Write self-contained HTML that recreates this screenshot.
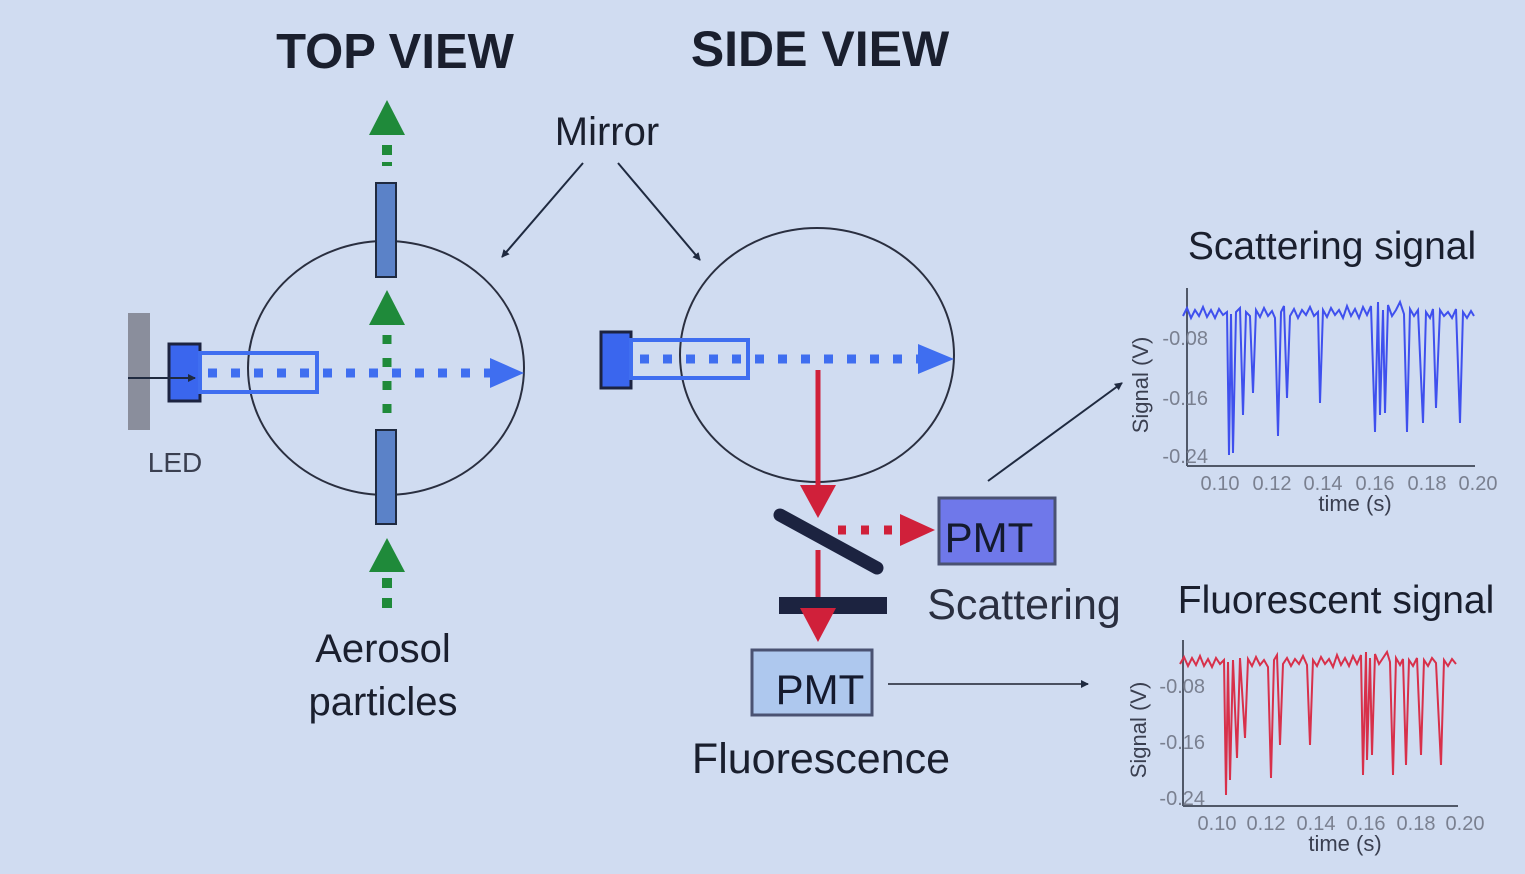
<!DOCTYPE html>
<html><head><meta charset="utf-8"><style>
html,body{margin:0;padding:0;background:#d0dcf1;}
svg{display:block;font-family:"Liberation Sans",sans-serif;}
</style></head><body>
<svg width="1525" height="874" viewBox="0 0 1525 874" xmlns="http://www.w3.org/2000/svg">
<defs>
<marker id="ab" markerWidth="8" markerHeight="8" refX="7" refY="4" orient="auto" markerUnits="userSpaceOnUse"><path d="M0,0 L8,4 L0,8 Z" fill="#1f2a40"/></marker>
</defs>
<rect width="1525" height="874" fill="#d0dcf1"/>
<text x="395" y="68" font-size="49" font-weight="bold" fill="#1a1f2e" text-anchor="middle">TOP VIEW</text>
<text x="820" y="66" font-size="50" font-weight="bold" fill="#1a1f2e" text-anchor="middle">SIDE VIEW</text>
<text x="607" y="145" font-size="40" fill="#1a1f2e" text-anchor="middle">Mirror</text>
<line x1="583" y1="163" x2="502" y2="257" stroke="#1f2a40" stroke-width="2" marker-end="url(#ab)"/>
<line x1="618" y1="163" x2="700" y2="260" stroke="#1f2a40" stroke-width="2" marker-end="url(#ab)"/>

<!-- top view -->
<ellipse cx="386" cy="368" rx="138" ry="127" fill="none" stroke="#2a2f40" stroke-width="2"/>
<rect x="128" y="313" width="22" height="117" fill="#8a8e9c"/>
<rect x="169" y="344" width="31" height="57" fill="#3a66ee" stroke="#1c2340" stroke-width="3"/>
<line x1="128" y1="378" x2="195" y2="378" stroke="#1f2a40" stroke-width="2" marker-end="url(#ab)"/>
<rect x="200" y="353" width="117" height="39" fill="none" stroke="#3f6ef0" stroke-width="4"/>
<line x1="208" y1="373" x2="495" y2="373" stroke="#3f6ef0" stroke-width="9" stroke-dasharray="9,14"/>
<path d="M490,358 L524,373 L490,388 Z" fill="#3f6ef0"/>
<text x="175" y="472" font-size="28" fill="#3a3f50" text-anchor="middle">LED</text>
<rect x="376" y="183" width="20" height="94" fill="#5b82c8" stroke="#1f2a40" stroke-width="2"/>
<rect x="376" y="430" width="20" height="94" fill="#5b82c8" stroke="#1f2a40" stroke-width="2"/>
<g fill="#1f8a3a">
<path d="M369,135 L387,100 L405,135 Z"/><rect x="382" y="145" width="10" height="10"/><rect x="382" y="162" width="10" height="4"/>
<path d="M369,325 L387,290 L405,325 Z"/>
<path d="M369,572 L387,538 L405,572 Z"/><rect x="382" y="578" width="10" height="10"/><rect x="382" y="598" width="10" height="10"/>
</g>
<line x1="387" y1="335" x2="387" y2="425" stroke="#1f8a3a" stroke-width="9" stroke-dasharray="9,14"/>
<text x="383" y="662" font-size="40" fill="#1a1f2e" text-anchor="middle">Aerosol</text>
<text x="383" y="715" font-size="40" fill="#1a1f2e" text-anchor="middle">particles</text>

<!-- side view -->
<ellipse cx="817" cy="355" rx="137" ry="127" fill="none" stroke="#2a2f40" stroke-width="2"/>
<rect x="601" y="332" width="30" height="56" fill="#3a66ee" stroke="#1c2340" stroke-width="3"/>
<rect x="631" y="340" width="117" height="38" fill="none" stroke="#3f6ef0" stroke-width="4"/>
<line x1="640" y1="359" x2="925" y2="359" stroke="#3f6ef0" stroke-width="9" stroke-dasharray="9,14"/>
<path d="M918,344 L954,359 L918,374 Z" fill="#3f6ef0"/>
<line x1="818" y1="370" x2="818" y2="490" stroke="#d0203a" stroke-width="5"/>
<path d="M800,485 L818,518 L836,485 Z" fill="#d0203a"/>
<line x1="780" y1="515" x2="877" y2="568" stroke="#1c2340" stroke-width="13" stroke-linecap="round"/>
<line x1="838" y1="530" x2="900" y2="530" stroke="#d0203a" stroke-width="9" stroke-dasharray="8,15"/>
<path d="M900,514 L935,530 L900,546 Z" fill="#d0203a"/>
<line x1="818" y1="550" x2="818" y2="615" stroke="#d0203a" stroke-width="5"/>
<rect x="779" y="597" width="108" height="17" fill="#1c2340"/>
<path d="M800,608 L818,642 L836,608 Z" fill="#d0203a"/>
<rect x="939" y="498" width="116" height="66" fill="#6f78ea" stroke="#4a5272" stroke-width="3"/>
<text x="989" y="552" font-size="42" fill="#141a2e" text-anchor="middle">PMT</text>
<text x="1024" y="619" font-size="43" fill="#2a2f40" text-anchor="middle">Scattering</text>
<rect x="752" y="650" width="120" height="65" fill="#aec8ee" stroke="#4a5272" stroke-width="3"/>
<text x="820" y="704" font-size="42" fill="#141a2e" text-anchor="middle">PMT</text>
<text x="821" y="773" font-size="43" fill="#1a1f2e" text-anchor="middle">Fluorescence</text>
<line x1="888" y1="684" x2="1088" y2="684" stroke="#4a5060" stroke-width="2" marker-end="url(#ab)"/>
<line x1="988" y1="481" x2="1122" y2="383" stroke="#1f2a40" stroke-width="2" marker-end="url(#ab)"/>

<!-- scattering plot -->
<text x="1332" y="259" font-size="39" fill="#1a1f2e" text-anchor="middle">Scattering signal</text>
<line x1="1187" y1="288" x2="1187" y2="466" stroke="#505868" stroke-width="2"/>
<line x1="1187" y1="466" x2="1475" y2="466" stroke="#505868" stroke-width="2"/>
<g font-size="20" fill="#7a8090" text-anchor="end">
<text x="1208" y="345">-0.08</text><text x="1208" y="405">-0.16</text><text x="1208" y="463">-0.24</text></g>
<g font-size="20" fill="#7a8090" text-anchor="middle">
<text x="1220" y="490">0.10</text><text x="1272" y="490">0.12</text><text x="1323" y="490">0.14</text><text x="1375" y="490">0.16</text><text x="1427" y="490">0.18</text><text x="1478" y="490">0.20</text></g>
<text x="1355" y="511" font-size="22" fill="#3a3f50" text-anchor="middle">time (s)</text>
<text transform="translate(1148,385) rotate(-90)" font-size="22" fill="#3a3f50" text-anchor="middle">Signal (V)</text>
<polyline fill="none" stroke="#3f50ee" stroke-width="2" points="1183,316 1187,308 1191,318 1195,310 1199,316 1203,307 1207,317 1211,310 1215,318 1219,309 1223,315 1227,312 1229,455 1231,314 1233,453 1236,312 1240,308 1243,415 1246,312 1250,316 1253,393 1256,310 1260,317 1264,308 1268,316 1272,311 1275,318 1278,436 1281,312 1284,306 1287,398 1290,316 1294,309 1298,318 1302,310 1306,315 1310,307 1314,316 1318,312 1320,403 1323,310 1327,317 1331,308 1335,315 1339,310 1343,318 1347,306 1351,316 1355,309 1359,318 1363,307 1367,315 1371,306 1375,432 1378,302 1380,415 1383,310 1385,413 1388,305 1392,316 1396,310 1400,302 1404,314 1407,432 1410,309 1414,316 1418,310 1423,423 1426,312 1430,318 1433,309 1436,408 1440,310 1444,316 1448,312 1452,318 1456,309 1460,423 1463,312 1467,318 1471,311 1474,316"/>

<!-- fluorescent plot -->
<text x="1336" y="613" font-size="39" fill="#1a1f2e" text-anchor="middle">Fluorescent signal</text>
<line x1="1183" y1="640" x2="1183" y2="806" stroke="#505868" stroke-width="2"/>
<line x1="1183" y1="806" x2="1458" y2="806" stroke="#505868" stroke-width="2"/>
<g font-size="20" fill="#7a8090" text-anchor="end">
<text x="1205" y="693">-0.08</text><text x="1205" y="749">-0.16</text><text x="1205" y="805">-0.24</text></g>
<g font-size="20" fill="#7a8090" text-anchor="middle">
<text x="1217" y="830">0.10</text><text x="1266" y="830">0.12</text><text x="1316" y="830">0.14</text><text x="1366" y="830">0.16</text><text x="1416" y="830">0.18</text><text x="1465" y="830">0.20</text></g>
<text x="1345" y="851" font-size="22" fill="#3a3f50" text-anchor="middle">time (s)</text>
<text transform="translate(1146,730) rotate(-90)" font-size="22" fill="#3a3f50" text-anchor="middle">Signal (V)</text>
<polyline fill="none" stroke="#d8304a" stroke-width="2" points="1180,664 1184,657 1188,666 1192,658 1196,665 1200,656 1204,666 1208,659 1212,667 1216,658 1220,664 1224,660 1226,795 1228,662 1230,780 1233,660 1237,758 1240,658 1245,738 1248,659 1252,666 1256,657 1260,665 1264,660 1268,667 1271,778 1274,660 1277,655 1280,745 1283,664 1287,658 1291,666 1295,659 1299,664 1303,656 1307,665 1310,745 1313,660 1317,666 1321,657 1325,664 1329,659 1333,667 1337,655 1341,665 1345,658 1349,666 1353,656 1357,664 1361,655 1363,775 1366,652 1367,760 1370,658 1372,755 1375,654 1379,664 1383,658 1387,652 1390,662 1393,775 1396,658 1400,665 1403,659 1406,765 1409,660 1413,666 1417,658 1421,755 1424,660 1428,666 1432,658 1436,663 1441,765 1444,660 1448,666 1452,659 1456,664"/>
</svg>
</body></html>
